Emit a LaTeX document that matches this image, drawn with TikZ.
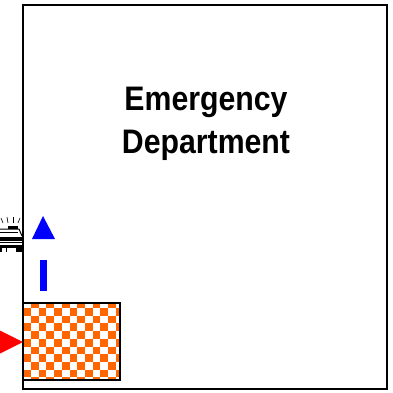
\documentclass[tikz,border=0pt]{standalone}
\usepackage{fontspec}
\setmainfont{Liberation Sans}
\newfontfamily\deptfont[FakeStretch=0.89]{Liberation Sans}
\usepackage{tikz}
\usetikzlibrary{positioning, calc}
\definecolor{checker}{HTML}{FF6600}

\begin{document}
\begin{tikzpicture}[
    x=1pt, y=-1pt,
    wall/.style={draw=black, line width=1.5pt},
    lamp/.style={black, line width=0.6pt},
    car/.style={black, line width=1pt}
]
\useasboundingbox (0,0) rectangle (393,393);
% Department outline
\draw[wall, fill=white] (23,5) rectangle (387,389);
\node[font=\deptfont\bfseries\fontsize{34}{43}\selectfont, align=center] (dept) at (206,123.5)
  {Emergency\\Department};
% Checkered waiting area
\begin{scope}
\clip (23,303) rectangle (120,380);
\fill[white] (23,303) rectangle (120,380);
\foreach \i in {0,...,12}
  \foreach \j in {0,...,10}{
    \pgfmathparse{int(mod(\i+\j,2))}
    \ifnum\pgfmathresult=1
      \fill[checker] ({23.3+7.7*\i},{300.3+7.7*\j}) rectangle +(7.7,7.7);
    \fi
  }
\end{scope}
\draw[wall] (23,303) rectangle (120,380);
% Arrows
\fill[red] (23,342) -- (-1,330) -- (-1,354) -- cycle;
\fill[blue] (43,216) -- (32,239) -- (55,239) -- cycle;
\fill[blue] (40,260) rectangle (47,291);
% Ambulance, cut off by the left margin
\draw[lamp] (1,218) -- (3,223);
\draw[lamp] (7,217) -- (8,223);
\draw[lamp] (13,217) -- (13,223);
\draw[lamp] (20,218) -- (18,223);
\fill[black] (8,226) rectangle (18,228.5);
\draw[car] (0,229) -- (19,229) -- (22,236);
\draw[car] (0,232) -- (18,232);
\fill[black] (0,237) rectangle (22.5,240.5);
\draw[car] (0,242.5) -- (22,242.5);
\fill[black] (0,245) rectangle (22,247.5);
\draw[car] (6,247) -- (6,252);
\draw[car] (16,247) -- (16,252);
\fill[black] (17,247) rectangle (22,252);
\fill[black] (0,247) rectangle (2,252);
\end{tikzpicture}
\end{document}
